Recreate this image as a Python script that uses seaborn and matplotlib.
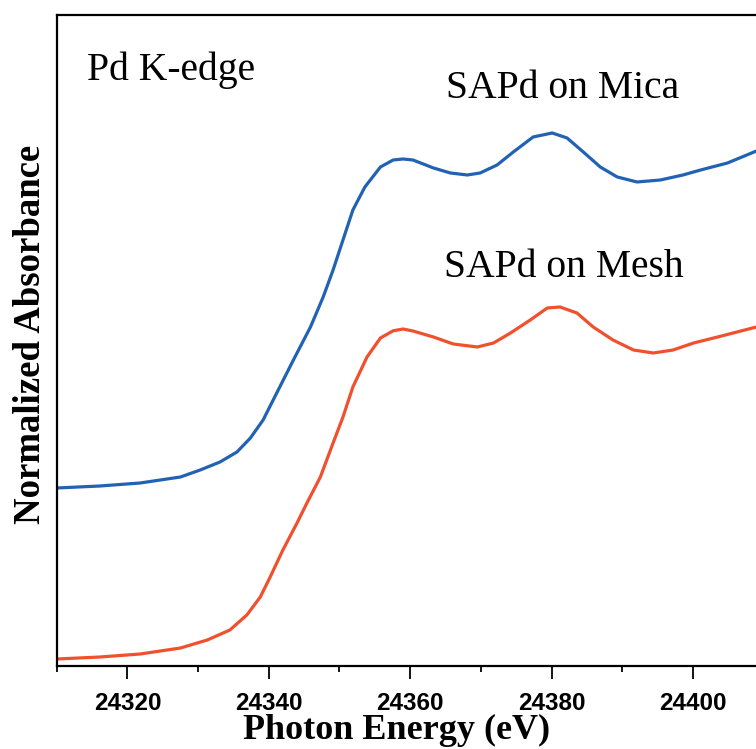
import matplotlib
matplotlib.use("Agg")
import matplotlib.pyplot as plt
from matplotlib.ticker import MultipleLocator
import seaborn as sns
import pandas as pd

# Photon energy (eV) and normalized absorbance (offset curves)
energy_mica = [24310.0, 24316.1, 24321.8, 24327.5, 24330.3, 24333.1, 24335.5, 24337.4,
               24339.2, 24341.2, 24343.4, 24345.9, 24347.7, 24349.1, 24350.5, 24351.9,
               24353.6, 24355.8, 24357.6, 24359.0, 24360.4, 24363.3, 24365.7, 24368.1,
               24369.9, 24372.3, 24374.6, 24377.4, 24380.1, 24382.2, 24384.5, 24386.9,
               24389.3, 24392.1, 24395.4, 24398.6, 24401.1, 24404.9, 24409.0]
absorb_mica = [0.445, 0.450, 0.4575, 0.4725, 0.490, 0.510, 0.535, 0.570,
               0.615, 0.685, 0.762, 0.8475, 0.9225, 0.990, 1.065, 1.140,
               1.1975, 1.2475, 1.265, 1.2675, 1.265, 1.245, 1.2325, 1.2275,
               1.2325, 1.2525, 1.285, 1.3225, 1.3325, 1.320, 1.285, 1.2475,
               1.2225, 1.210, 1.215, 1.2275, 1.240, 1.2575, 1.2875]

energy_mesh = [24310.0, 24316.1, 24321.8, 24327.5, 24331.3, 24334.5, 24336.9, 24338.8,
               24340.2, 24342.0, 24344.0, 24345.4, 24347.3, 24349.1, 24350.5, 24351.9,
               24353.9, 24355.8, 24357.6, 24359.0, 24360.4, 24363.3, 24366.1, 24369.5,
               24371.8, 24374.2, 24377.0, 24379.4, 24381.2, 24383.6, 24385.9, 24388.7,
               24391.6, 24394.4, 24397.2, 24400.1, 24403.5, 24409.0]
absorb_mesh = [0.0175, 0.0225, 0.030, 0.045, 0.065, 0.090, 0.1275, 0.1725,
               0.2225, 0.290, 0.3575, 0.4075, 0.4725, 0.5575, 0.6225, 0.6975,
               0.7725, 0.820, 0.838, 0.8425, 0.8375, 0.8225, 0.805, 0.7975,
               0.8075, 0.8325, 0.865, 0.895, 0.8975, 0.8825, 0.8475, 0.815,
               0.790, 0.7825, 0.790, 0.8075, 0.8225, 0.8475]

labels = ["SAPd on Mica", "SAPd on Mesh"]
edge_label = "Pd K-edge"
x_ticks = [24320, 24340, 24360, 24380, 24400]

df = pd.concat([
    pd.DataFrame({"energy": energy_mica, "absorbance": absorb_mica, "sample": labels[0]}),
    pd.DataFrame({"energy": energy_mesh, "absorbance": absorb_mesh, "sample": labels[1]}),
])

sns.set_theme(style="white")
plt.rcParams["font.family"] = ["Liberation Serif", "DejaVu Serif"]

fig = plt.figure(figsize=(7.56, 7.49), dpi=100)
ax = fig.add_axes([0.075, 0.1108, 0.935, 0.8692])

sns.lineplot(data=df, x="energy", y="absorbance", hue="sample",
             palette={labels[0]: "#2262b4", labels[1]: "#f0502e"},
             linewidth=2.3, legend=False, ax=ax, estimator=None, sort=True)
for line in ax.get_lines():
    line.set_solid_joinstyle("round")

ax.set_xlim(24310, 24410)
ax.set_ylim(0, 1.6275)
ax.set_xticks(x_ticks)
ax.xaxis.set_minor_locator(MultipleLocator(10))
ax.set_yticks([])
ax.set_xlabel("")
ax.set_ylabel("")

for side in ["left", "bottom", "top"]:
    ax.spines[side].set_visible(True)
    ax.spines[side].set_color("black")
    ax.spines[side].set_linewidth(1.6)
ax.spines["right"].set_visible(False)

ax.tick_params(axis="x", which="major", direction="out", length=9.5, width=1.3,
               bottom=True, color="black", pad=9)
ax.tick_params(axis="x", which="minor", direction="out", length=4.5, width=1.3,
               bottom=True, color="black")
for lbl in ax.get_xticklabels():
    lbl.set_fontfamily(["Liberation Sans", "DejaVu Sans"])
    lbl.set_fontweight("bold")
    lbl.set_fontsize(17.5)
    lbl.set_color("black")

ax.text(24314.3, 1.465, edge_label, fontsize=28.5, ha="left", va="baseline", color="black")
ax.text(24381.5, 1.42, labels[0], fontsize=28.5, ha="center", va="baseline", color="black")
ax.text(24381.7, 0.9725, labels[1], fontsize=28.5, ha="center", va="baseline", color="black")

fig.text(0.040, 0.553, "Normalized Absorbance", rotation=90, fontsize=26.5,
         fontweight="bold", ha="center", va="center", color="black")
fig.text(0.524, 0.013, "Photon Energy (eV)", fontsize=26,
         fontweight="bold", ha="center", va="baseline", color="black")

fig.savefig("out.png", dpi=100)
